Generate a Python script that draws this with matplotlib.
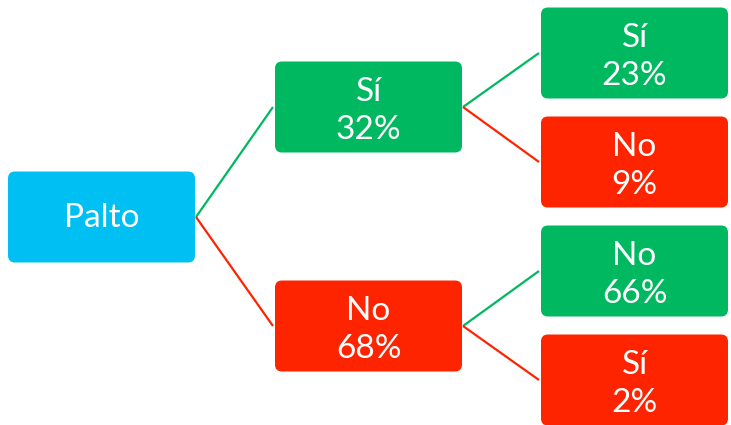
import matplotlib.pyplot as plt
from matplotlib.patches import FancyBboxPatch

# datos del arbol
raiz = "Palto"
nivel1_etq = ["Sí", "No"]
nivel1_pct = [32, 68]
nivel2_etq = ["Sí", "No", "No", "Sí"]
nivel2_pct = [23, 9, 66, 2]

azul = "#00BFF3"
verde = "#00B860"
rojo = "#FF2400"
rama_col = [verde, rojo]

plt.rcParams['font.family'] = ['Lato', 'DejaVu Sans']

fig = plt.figure(figsize=(7.31, 4.25), dpi=100)
ax = fig.add_axes([0, 0, 1, 1])
ax.set_xlim(0, 731)
ax.set_ylim(425, 0)
ax.axis('off')

W, H = 187, 91
FS = 24


def caja(x0, yc, col, texto, dy=4):
    p = FancyBboxPatch((x0 + 5, yc - H / 2 + 5), W - 10, H - 10,
                       boxstyle="round,pad=5,rounding_size=7",
                       fc=col, ec='none', zorder=2)
    ax.add_patch(p)
    ax.text(x0 + W / 2, yc + dy, texto, color='white', fontsize=FS,
            ha='center', va='center', linespacing=1.34, zorder=3)


def linea(x1, y1, x2, y2, col):
    ax.plot([x1, x2], [y1, y2], color=col, lw=1.6, zorder=1,
            solid_capstyle='butt')


x_cols = [8, 275, 541]
y_raiz = 217
y_n1 = [107, 326]
y_n2 = [53, 162, 271, 380]

caja(x_cols[0], y_raiz, azul, raiz, dy=1)

for i in range(len(nivel1_etq)):
    linea(x_cols[0] + W + 1, y_raiz, x_cols[1] - 2, y_n1[i], rama_col[i])
    caja(x_cols[1], y_n1[i], rama_col[i], f"{nivel1_etq[i]}\n{nivel1_pct[i]}%")
    for j in range(2):
        k = 2 * i + j
        linea(x_cols[1] + W + 1, y_n1[i], x_cols[2] - 2, y_n2[k], rama_col[j])
        caja(x_cols[2], y_n2[k], rama_col[j], f"{nivel2_etq[k]}\n{nivel2_pct[k]}%")

fig.savefig("out.png", dpi=100)
